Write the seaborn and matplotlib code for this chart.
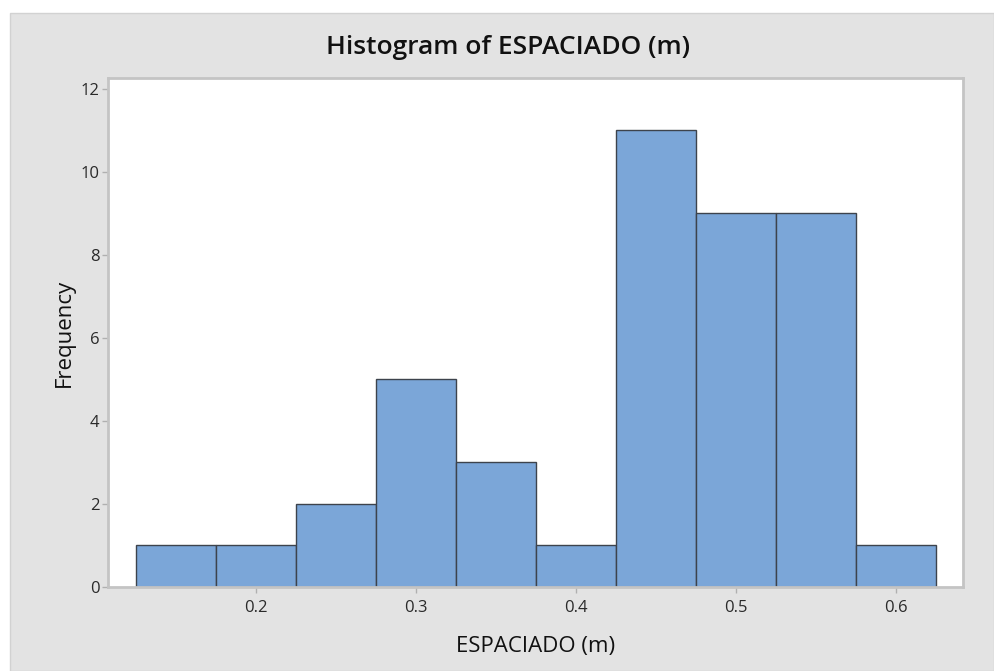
import numpy as np
import pandas as pd
import matplotlib
matplotlib.use("Agg")
import matplotlib.pyplot as plt
from matplotlib.patches import Rectangle
import seaborn as sns

# Data
bin_centers = [0.15, 0.20, 0.25, 0.30, 0.35, 0.40, 0.45, 0.50, 0.55, 0.60]
counts = [1, 1, 2, 5, 3, 1, 11, 9, 9, 1]
bin_edges = [0.125, 0.175, 0.225, 0.275, 0.325, 0.375, 0.425, 0.475, 0.525, 0.575, 0.625]
x_ticks = [0.2, 0.3, 0.4, 0.5, 0.6]
x_tick_labels = ["0.2", "0.3", "0.4", "0.5", "0.6"]
y_ticks = [0, 2, 4, 6, 8, 10, 12]

df = pd.DataFrame({"ESPACIADO (m)": bin_centers, "count": counts})

sns.set_theme(style="white")
plt.rcParams['font.family'] = ['Open Sans', 'DejaVu Sans']

fig = plt.figure(figsize=(9.94, 6.71), dpi=100)
fig.patch.set_facecolor("white")
# gray panel background
bg = Rectangle((10 / 994, 0), 1 - 10 / 994, 1 - 13 / 671,
               transform=fig.transFigure, facecolor="#e3e3e3",
               edgecolor="#d2d2d2", linewidth=1.0, zorder=-10)
fig.patches.append(bg)

ax = fig.add_axes([108 / 994, 1 - 587 / 671, (963 - 108) / 994, (587 - 78) / 671])
ax.set_facecolor("white")
ax.set_zorder(1)

sns.histplot(data=df, x="ESPACIADO (m)", weights="count", bins=bin_edges,
             color="#7ba6d8", alpha=1.0, edgecolor="#3d434c", linewidth=1.0, ax=ax)

ax.set_xlim(0.1075, 0.6419)
ax.set_ylim(0, 12.26)
ax.set_xticks(x_ticks)
ax.set_xticklabels(x_tick_labels)
ax.set_yticks(y_ticks)

for s in ax.spines.values():
    s.set_color("#c4c4c4")
    s.set_linewidth(2.0)
    s.set_visible(True)

ax.tick_params(axis="both", which="both", direction="out", length=4, width=1,
               color="#b0b0b0", labelsize=12, labelcolor="#2a2a2a",
               bottom=True, left=True)
ax.tick_params(axis="x", pad=5)
ax.tick_params(axis="y", pad=2)

ax.set_xlabel("ESPACIADO (m)", fontsize=16, color="#111111", labelpad=15)
ax.set_ylabel("Frequency", fontsize=16, color="#111111", labelpad=4)

fig.text(508 / 994, 1 - 48 / 671, "Histogram of ESPACIADO (m)", ha="center",
         va="center", fontsize=19, fontweight="semibold", color="#111111", zorder=2)

fig.savefig("out.png", dpi=100)
